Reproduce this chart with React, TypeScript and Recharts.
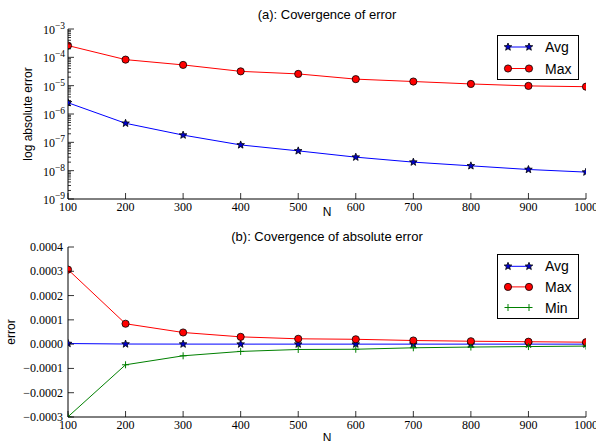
import React from 'react';
import { LineChart, Line, XAxis, YAxis } from 'recharts';

const Ns = [100, 200, 300, 400, 500, 600, 700, 800, 900, 1000];
const avgLog = [2.5e-6, 4.7e-7, 1.8e-7, 8.1e-8, 5.0e-8, 3.0e-8, 2.0e-8, 1.48e-8, 1.1e-8, 8.9e-9];
const maxLog = [2.6e-4, 8.3e-5, 5.4e-5, 3.2e-5, 2.6e-5, 1.7e-5, 1.4e-5, 1.15e-5, 9.8e-6, 9.2e-6];
const avgErr = [2.5e-6, 4.7e-7, 1.8e-7, 8.1e-8, 5.0e-8, 3.0e-8, 2.0e-8, 1.48e-8, 1.1e-8, 8.9e-9];
const maxErr = [3.07e-4, 8.4e-5, 4.8e-5, 3.0e-5, 2.2e-5, 2.0e-5, 1.5e-5, 1.2e-5, 1.0e-5, 0.8e-5];
const minErr = [-2.99e-4, -8.5e-5, -4.8e-5, -3.0e-5, -2.2e-5, -2.1e-5, -1.5e-5, -1.2e-5, -1.0e-5, -0.8e-5];

const xTicks = [100, 200, 300, 400, 500, 600, 700, 800, 900, 1000];
const logExponents = [-9, -8, -7, -6, -5, -4, -3];
const linTicks = [-0.0003, -0.0002, -0.0001, 0, 0.0001, 0.0002, 0.0003, 0.0004];

const titleA = '(a): Covergence of error';
const titleB = '(b): Covergence of absolute error';

const logTicks: number[] = [];
logExponents.forEach((e, i) => {
  logTicks.push(Math.pow(10, e));
  if (i < logExponents.length - 1) {
    for (let k = 2; k <= 9; k++) logTicks.push(k * Math.pow(10, e));
  }
});

const topData = Ns.map((n, i) => ({ N: n, avg: avgLog[i], max: maxLog[i] }));
const botData = Ns.map((n, i) => ({ N: n, avg: avgErr[i], max: maxErr[i], min: minErr[i] }));

const SERIF = '"Liberation Serif", "DejaVu Serif", serif';
const SANS = '"Liberation Sans", Arial, sans-serif';

const BLUE = '#0000ff';
const RED = '#ff0000';
const GREEN = '#008000';
const MAJ = 6;
const MIN = 3;

function starPath(cx: number, cy: number, R: number, r: number) {
  let d = '';
  for (let i = 0; i < 10; i++) {
    const rad = i % 2 === 0 ? R : r;
    const a = -Math.PI / 2 + (i * Math.PI) / 5;
    d += (i === 0 ? 'M' : 'L') + (cx + rad * Math.cos(a)).toFixed(2) + ',' + (cy + rad * Math.sin(a)).toFixed(2);
  }
  return d + 'Z';
}

const Star = ({ cx, cy }: any) => (
  <path d={starPath(cx, cy, 4, 1.7)} fill="#0000cc" stroke="#000" strokeWidth={0.8} />
);
const Circ = ({ cx, cy }: any) => <circle cx={cx} cy={cy} r={3.6} fill={RED} stroke="#000" strokeWidth={0.8} />;
const Plus = ({ cx, cy }: any) => (
  <g stroke={GREEN} strokeWidth={1}>
    <line x1={cx - 3.5} x2={cx + 3.5} y1={cy} y2={cy} />
    <line x1={cx} x2={cx} y1={cy - 3.5} y2={cy + 3.5} />
  </g>
);

const dotStar = (p: any) => <Star key={'s' + p.index} cx={p.cx} cy={p.cy} />;
const dotCirc = (p: any) => <Circ key={'c' + p.index} cx={p.cx} cy={p.cy} />;
const dotPlus = (p: any) => <Plus key={'p' + p.index} cx={p.cx} cy={p.cy} />;

const isMajorLog = (v: number) => {
  const e = Math.log10(v);
  return Math.abs(e - Math.round(e)) < 1e-6;
};

const LeftLogTick = (props: any) => {
  const { x, y, payload } = props;
  const v = payload.value;
  const major = isMajorLog(v);
  const e = Math.round(Math.log10(v));
  return (
    <g>
      <line x1={x} x2={x + (major ? MAJ : MIN)} y1={y} y2={y} stroke="#000" strokeWidth={0.8} />
      {major && (
        <text x={x - 3} y={y + 5} textAnchor="end" fontFamily={SERIF} fontSize={12} fill="#000">
          10<tspan dy={-5} fontSize={9.5}>{'\u2212' + Math.abs(e)}</tspan>
        </text>
      )}
    </g>
  );
};
const RightLogTick = (props: any) => {
  const { x, y, payload } = props;
  const major = isMajorLog(payload.value);
  return <line x1={x - (major ? MAJ : MIN)} x2={x} y1={y} y2={y} stroke="#000" strokeWidth={0.8} />;
};

const fmtLin = (v: number) => {
  const s = Math.abs(v).toFixed(4);
  return (v < -1e-12 ? '\u2212' : '') + s;
};
const LeftLinTick = (props: any) => {
  const { x, y, payload } = props;
  return (
    <g>
      <line x1={x} x2={x + MAJ} y1={y} y2={y} stroke="#000" strokeWidth={0.8} />
      <text x={x - 5} y={y + 4} textAnchor="end" fontFamily={SERIF} fontSize={12} fill="#000">
        {fmtLin(payload.value)}
      </text>
    </g>
  );
};
const RightLinTick = (props: any) => {
  const { x, y } = props;
  return <line x1={x - MAJ} x2={x} y1={y} y2={y} stroke="#000" strokeWidth={0.8} />;
};
const BottomTick = (props: any) => {
  const { x, y, payload } = props;
  return (
    <g>
      <line x1={x} x2={x} y1={y - MAJ} y2={y} stroke="#000" strokeWidth={0.8} />
      <text x={x} y={y + 12} textAnchor="middle" fontFamily={SERIF} fontSize={12} fill="#000">
        {payload.value}
      </text>
    </g>
  );
};
const TopTick = (props: any) => {
  const { x, y } = props;
  return <line x1={x} x2={x} y1={y} y2={y + MAJ} stroke="#000" strokeWidth={0.8} />;
};

type LegendItem = { name: string; color: string; marker: (p: any) => React.ReactElement };
const legendTop: LegendItem[] = [
  { name: 'Avg', color: BLUE, marker: Star },
  { name: 'Max', color: RED, marker: Circ },
];
const legendBot: LegendItem[] = [
  { name: 'Avg', color: BLUE, marker: Star },
  { name: 'Max', color: RED, marker: Circ },
  { name: 'Min', color: GREEN, marker: Plus },
];

const LegendBox = ({ x, y, w, h, items, y0, dy }: any) => (
  <g>
    <rect x={x} y={y} width={w} height={h} fill="#fff" stroke="#000" strokeWidth={1} />
    {items.map((it: LegendItem, i: number) => {
      const yy = y0 + i * dy;
      const M = it.marker;
      return (
        <g key={it.name}>
          <line x1={508} x2={529} y1={yy} y2={yy} stroke={it.color} strokeWidth={1} />
          <M cx={508} cy={yy} />
          <M cx={529} cy={yy} />
          <text x={545} y={yy + 5} fontFamily={SANS} fontSize={14} fill="#000">
            {it.name}
          </text>
        </g>
      );
    })}
  </g>
);

export default function App() {
  return (
    <div style={{ position: 'absolute', left: 0, top: 0, width: 596, height: 441, background: '#fff', overflow: 'hidden' }}>
      <div style={{ position: 'absolute', left: 0, top: 0 }}>
        <LineChart width={596} height={225} data={topData} margin={{ top: 29, right: 10, bottom: 0, left: 0 }}>
          <XAxis xAxisId="b" dataKey="N" type="number" domain={[100, 1000]} ticks={xTicks} interval={0}
            height={26} tickSize={0} tickMargin={0} tick={BottomTick} axisLine={{ stroke: '#000' }} allowDataOverflow />
          <XAxis xAxisId="t" orientation="top" dataKey="N" type="number" domain={[100, 1000]} ticks={xTicks} interval={0}
            height={0} tickSize={0} tickMargin={0} tick={TopTick} axisLine={{ stroke: '#000' }} allowDataOverflow />
          <YAxis yAxisId="l" type="number" scale="log" domain={[1e-9, 1e-3]} ticks={logTicks} interval={0}
            width={68} tickSize={0} tickMargin={0} tick={LeftLogTick} axisLine={{ stroke: '#000' }} allowDataOverflow />
          <YAxis yAxisId="r" orientation="right" type="number" scale="log" domain={[1e-9, 1e-3]} ticks={logTicks} interval={0}
            width={0} tickSize={0} tickMargin={0} tick={RightLogTick} axisLine={{ stroke: '#000' }} allowDataOverflow />
          <Line xAxisId="b" yAxisId="l" type="linear" dataKey="avg" stroke={BLUE} strokeWidth={1} dot={dotStar} isAnimationActive={false} />
          <Line xAxisId="b" yAxisId="l" type="linear" dataKey="max" stroke={RED} strokeWidth={1} dot={dotCirc} isAnimationActive={false} />
        </LineChart>
      </div>
      <div style={{ position: 'absolute', left: 0, top: 225 }}>
        <LineChart width={596} height={216} data={botData} margin={{ top: 22, right: 10, bottom: 0, left: 0 }}>
          <XAxis xAxisId="b" dataKey="N" type="number" domain={[100, 1000]} ticks={xTicks} interval={0}
            height={24} tickSize={0} tickMargin={0} tick={BottomTick} axisLine={{ stroke: '#000' }} allowDataOverflow />
          <XAxis xAxisId="t" orientation="top" dataKey="N" type="number" domain={[100, 1000]} ticks={xTicks} interval={0}
            height={0} tickSize={0} tickMargin={0} tick={TopTick} axisLine={{ stroke: '#000' }} allowDataOverflow />
          <YAxis yAxisId="l" type="number" domain={[-0.0003, 0.0004]} ticks={linTicks} interval={0}
            width={68} tickSize={0} tickMargin={0} tick={LeftLinTick} axisLine={{ stroke: '#000' }} allowDataOverflow />
          <YAxis yAxisId="r" orientation="right" type="number" domain={[-0.0003, 0.0004]} ticks={linTicks} interval={0}
            width={0} tickSize={0} tickMargin={0} tick={RightLinTick} axisLine={{ stroke: '#000' }} allowDataOverflow />
          <Line xAxisId="b" yAxisId="l" type="linear" dataKey="avg" stroke={BLUE} strokeWidth={1} dot={dotStar} isAnimationActive={false} />
          <Line xAxisId="b" yAxisId="l" type="linear" dataKey="max" stroke={RED} strokeWidth={1} dot={dotCirc} isAnimationActive={false} />
          <Line xAxisId="b" yAxisId="l" type="linear" dataKey="min" stroke={GREEN} strokeWidth={1} dot={dotPlus} isAnimationActive={false} />
        </LineChart>
      </div>
      <svg width={596} height={441} style={{ position: 'absolute', left: 0, top: 0, pointerEvents: 'none' }}>
        <text x={327} y={19} textAnchor="middle" fontFamily={SANS} fontSize={13} fill="#000">{titleA}</text>
        <text x={327} y={241} textAnchor="middle" fontFamily={SANS} fontSize={13} fill="#000">{titleB}</text>
        <text x={327} y={216} textAnchor="middle" fontFamily={SANS} fontSize={12} fill="#000">N</text>
        <text x={327} y={442} textAnchor="middle" fontFamily={SANS} fontSize={12} fill="#000">N</text>
        <text x={32} y={114} textAnchor="middle" fontFamily={SANS} fontSize={12} fill="#000" transform="rotate(-90 32 114)">log absolute error</text>
        <text x={15} y={332} textAnchor="middle" fontFamily={SANS} fontSize={12} fill="#000" transform="rotate(-90 15 332)">error</text>
        <LegendBox x={497.5} y={35.5} w={81} h={44} items={legendTop} y0={47} dy={21.5} />
        <LegendBox x={497.5} y={254.5} w={81} h={64} items={legendBot} y0={266.3} dy={20.6} />
      </svg>
    </div>
  );
}
